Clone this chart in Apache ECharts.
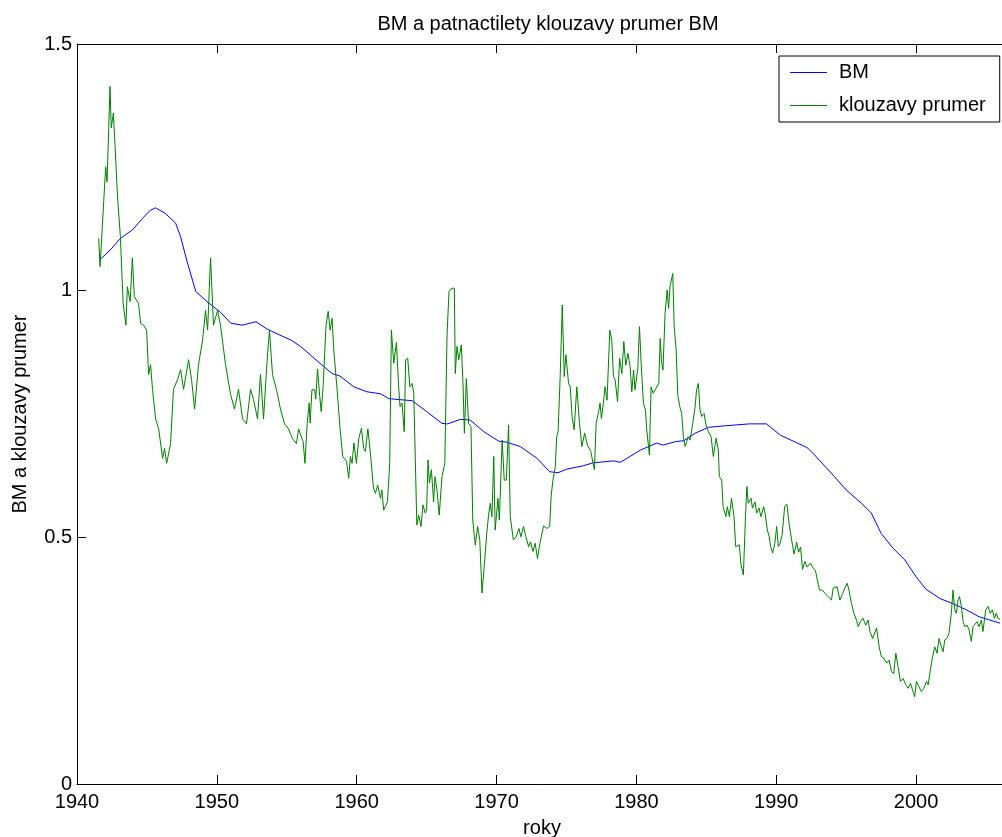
<!DOCTYPE html>
<html>
<head>
<meta charset="utf-8">
<script src="https://cdn.jsdelivr.net/npm/echarts@6/dist/echarts.min.js"></script>
<style>
  html, body { margin: 0; padding: 0; background: #fff; }
  #main { width: 1002px; height: 837px; }
</style>
</head>
<body>
<div id="main"></div>
<script>
// BM (blue)
var bmYears = [1941.6, 1942.4, 1943.1, 1943.96, 1944.7, 1945.2, 1945.6, 1946.3, 1947.05, 1947.4,
  1947.9, 1948.5, 1949.3, 1950.3, 1951.0, 1951.8, 1952.8, 1953.6, 1954.5, 1955.3,
  1955.98, 1957.65, 1958.24, 1958.8, 1959.8, 1960.74, 1961.7, 1962.3, 1963.96, 1965.0,
  1966.1, 1966.5, 1967.4, 1968.1, 1969.1, 1970.15, 1970.7, 1971.7, 1972.9, 1973.8,
  1974.4, 1975.0, 1976.2, 1976.9, 1978.4, 1978.84, 1979.2, 1980.3, 1981.45, 1981.9,
  1982.8, 1983.4, 1984.2, 1985.15, 1986.3, 1988.1, 1989.3, 1990.3, 1992.2, 1992.64,
  1994.07, 1995.0, 1996.1, 1996.8, 1997.5, 1998.35, 1999.2, 2000.0, 2000.7, 2001.7,
  2002.6, 2003.6, 2004.5, 2006.0];
var bmValues = [1.062, 1.083, 1.106, 1.123, 1.147, 1.162, 1.168, 1.157, 1.137, 1.11,
  1.056, 0.998, 0.978, 0.955, 0.934, 0.93, 0.937, 0.922, 0.91, 0.9,
  0.887, 0.846, 0.832, 0.827, 0.805, 0.795, 0.791, 0.781, 0.777, 0.755,
  0.731, 0.73, 0.739, 0.738, 0.714, 0.695, 0.693, 0.684, 0.66, 0.633,
  0.631, 0.638, 0.645, 0.651, 0.655, 0.652, 0.658, 0.677, 0.691, 0.687,
  0.694, 0.696, 0.711, 0.723, 0.726, 0.73, 0.73, 0.707, 0.682, 0.67,
  0.626, 0.596, 0.569, 0.549, 0.508, 0.478, 0.454, 0.42, 0.395, 0.376,
  0.366, 0.353, 0.339, 0.326];

// klouzavy prumer (green)
var kpYears = [1941.55, 1941.65, 1942.05, 1942.15, 1942.36, 1942.45, 1942.6, 1942.7, 1942.9, 1943.1,
  1943.3, 1943.5, 1943.6, 1943.8, 1943.96, 1944.1, 1944.4, 1944.55,
  1944.76, 1944.98, 1945.12, 1945.26, 1945.4, 1945.62, 1945.84, 1946.12, 1946.26, 1946.41,
  1946.69, 1946.9, 1947.19, 1947.41, 1947.62, 1947.98, 1948.19, 1948.41, 1948.69, 1948.98,
  1949.19, 1949.34, 1949.55, 1949.76, 1950.05, 1950.26, 1950.62, 1950.98, 1951.26, 1951.55,
  1951.84, 1952.12, 1952.41, 1952.62, 1952.91, 1953.12, 1953.34, 1953.55, 1953.76, 1953.98,
  1954.26, 1954.55, 1954.84, 1955.12, 1955.41, 1955.69, 1955.84,
  1955.98, 1956.17, 1956.3, 1956.46, 1956.6, 1956.67, 1956.8, 1957.0, 1957.07, 1957.2,
  1957.36, 1957.46, 1957.6, 1957.8, 1957.96, 1958.1, 1958.24, 1958.36, 1958.6, 1958.8,
  1959.0, 1959.27, 1959.43, 1959.55, 1959.67, 1959.8, 1959.98, 1960.15, 1960.34, 1960.5,
  1960.62, 1960.8, 1960.9, 1961.0, 1961.2, 1961.34, 1961.5, 1961.7, 1961.8, 1961.93,
  1962.05, 1962.2, 1962.36, 1962.48, 1962.65, 1962.84, 1963.0, 1963.1, 1963.24, 1963.4,
  1963.5, 1963.65, 1963.8, 1963.96, 1964.08, 1964.3, 1964.43, 1964.6, 1964.74, 1964.9,
  1965.0, 1965.1, 1965.2, 1965.34, 1965.5, 1965.6, 1965.74, 1965.9, 1966.1, 1966.3,
  1966.46, 1966.6, 1966.8, 1966.98, 1967.05, 1967.17, 1967.3, 1967.48, 1967.6, 1967.7,
  1967.84, 1968.0, 1968.17, 1968.3, 1968.48, 1968.65, 1968.8, 1968.96, 1969.1, 1969.3,
  1969.43, 1969.55, 1969.67, 1969.8, 1969.9, 1970.1, 1970.2, 1970.4, 1970.55, 1970.7,
  1970.86, 1970.98, 1971.2, 1971.4, 1971.6, 1971.74, 1971.93, 1972.1, 1972.3, 1972.43,
  1972.6, 1972.76, 1972.93, 1973.1, 1973.36, 1973.6, 1973.8, 1973.9, 1974.03, 1974.2,
  1974.3, 1974.4, 1974.55, 1974.7, 1974.84, 1974.96, 1975.15, 1975.27, 1975.4, 1975.55,
  1975.74, 1975.93, 1976.1, 1976.3, 1976.5, 1976.74, 1976.9, 1977.0, 1977.12, 1977.3,
  1977.4, 1977.5, 1977.64, 1977.76, 1977.9, 1978.0, 1978.1, 1978.24, 1978.36, 1978.48,
  1978.65, 1978.8, 1978.96, 1979.1, 1979.24, 1979.4, 1979.55, 1979.67, 1979.8, 1979.9,
  1980.1, 1980.22, 1980.34, 1980.5, 1980.65, 1980.74, 1980.93, 1981.05, 1981.2, 1981.4,
  1981.6, 1981.7, 1981.8, 1981.9, 1982.05, 1982.2, 1982.3, 1982.4, 1982.6, 1982.7,
  1982.84, 1982.96, 1983.1, 1983.24, 1983.36, 1983.48, 1983.6, 1983.7, 1983.84, 1984.03,
  1984.2, 1984.3, 1984.43, 1984.55, 1984.67, 1984.84, 1984.98, 1985.15, 1985.34, 1985.5,
  1985.7, 1985.86, 1985.93, 1986.1, 1986.2, 1986.4, 1986.5, 1986.65, 1986.8, 1986.98,
  1987.1, 1987.36, 1987.48, 1987.65, 1987.8, 1987.9, 1988.0, 1988.2, 1988.3, 1988.48,
  1988.6, 1988.77, 1988.9, 1989.1, 1989.2, 1989.36, 1989.5, 1989.6, 1989.74, 1989.9,
  1990.03, 1990.15, 1990.27, 1990.42, 1990.6, 1990.76, 1990.93, 1991.1, 1991.27, 1991.46,
  1991.6, 1991.74, 1991.88, 1992.05, 1992.2, 1992.45, 1992.64, 1992.8, 1993.0, 1993.1,
  1993.3, 1993.5, 1993.7, 1993.95, 1994.07, 1994.2, 1994.35, 1994.55, 1994.74, 1994.9,
  1995.07, 1995.2, 1995.38, 1995.55, 1995.74, 1995.86, 1996.02, 1996.2, 1996.4, 1996.57,
  1996.7, 1996.9, 1997.17, 1997.36, 1997.52, 1997.69, 1997.9, 1998.07, 1998.24, 1998.4,
  1998.55, 1998.71, 1998.88, 1999.07, 1999.26, 1999.43, 1999.6, 1999.74, 1999.9, 2000.02,
  2000.21, 2000.38, 2000.55, 2000.74, 2000.86, 2001.02, 2001.16, 2001.33, 2001.5, 2001.64,
  2001.81, 2001.93, 2002.05, 2002.2, 2002.35, 2002.52, 2002.64, 2002.76, 2002.88, 2003.0,
  2003.1, 2003.24, 2003.36, 2003.48, 2003.64, 2003.79, 2003.95, 2004.07, 2004.19, 2004.36,
  2004.5, 2004.67, 2004.78, 2004.98, 2005.14, 2005.3, 2005.45, 2005.6, 2005.74, 2005.86,
  2006.0];
var kpValues = [1.106, 1.049, 1.251, 1.221, 1.414, 1.33, 1.36, 1.305, 1.19, 1.11,
  0.974, 0.93, 1.008, 0.978, 1.066, 0.988, 0.974, 0.934,
  0.93, 0.92, 0.83, 0.85, 0.8, 0.74, 0.72, 0.66, 0.68, 0.65,
  0.69, 0.8, 0.82, 0.84, 0.8, 0.86, 0.82, 0.76, 0.85, 0.9,
  0.96, 0.92, 1.066, 0.93, 0.96, 0.93, 0.85, 0.79, 0.76, 0.8,
  0.74, 0.73, 0.8, 0.78, 0.74, 0.83, 0.74, 0.84, 0.92, 0.83,
  0.8, 0.76, 0.73, 0.72, 0.7, 0.69, 0.72,
  0.718, 0.694, 0.65, 0.731, 0.772, 0.732, 0.799, 0.799, 0.78, 0.841,
  0.785, 0.755, 0.806, 0.927, 0.958, 0.92, 0.944, 0.88, 0.799, 0.724,
  0.664, 0.654, 0.62, 0.664, 0.65, 0.691, 0.65, 0.701, 0.721, 0.68,
  0.674, 0.72, 0.718, 0.664, 0.6, 0.589, 0.606, 0.579, 0.596, 0.555,
  0.552, 0.572, 0.65, 0.92, 0.853, 0.895, 0.805, 0.765, 0.772, 0.714,
  0.86, 0.863, 0.805, 0.812, 0.792, 0.525, 0.545, 0.522, 0.566, 0.549,
  0.555, 0.657, 0.61, 0.637, 0.572, 0.623, 0.596, 0.545, 0.623, 0.65,
  0.91, 0.998, 1.005, 1.005, 0.832, 0.887, 0.86, 0.89, 0.812, 0.711,
  0.822, 0.731, 0.724, 0.535, 0.484, 0.522, 0.495, 0.387, 0.434, 0.508,
  0.545, 0.569, 0.542, 0.664, 0.515, 0.579, 0.535, 0.697, 0.616, 0.616,
  0.728, 0.542, 0.495, 0.501, 0.518, 0.501, 0.522, 0.501, 0.481, 0.491,
  0.471, 0.488, 0.457, 0.488, 0.523, 0.518, 0.522, 0.582, 0.616, 0.643,
  0.704, 0.714, 0.826, 0.971, 0.826, 0.87, 0.812, 0.805, 0.745, 0.718,
  0.805, 0.731, 0.684, 0.711, 0.687, 0.674, 0.65, 0.637, 0.731, 0.755,
  0.772, 0.741, 0.772, 0.805, 0.778, 0.782, 0.92, 0.9, 0.826, 0.819,
  0.775, 0.863, 0.832, 0.897, 0.849, 0.873, 0.846, 0.795, 0.839, 0.799,
  0.843, 0.927, 0.853, 0.772, 0.758, 0.718, 0.667, 0.805, 0.792, 0.802,
  0.812, 0.903, 0.856, 0.839, 0.954, 1.001, 0.964, 1.008, 1.035, 0.927,
  0.88, 0.788, 0.765, 0.751, 0.704, 0.684, 0.694, 0.704, 0.697, 0.731,
  0.765, 0.799, 0.812, 0.758, 0.745, 0.751, 0.728, 0.714, 0.704, 0.664,
  0.701, 0.677, 0.623, 0.616, 0.562, 0.542, 0.562, 0.542, 0.579, 0.542,
  0.481, 0.485, 0.444, 0.424, 0.542, 0.603, 0.569, 0.579, 0.559, 0.572,
  0.549, 0.559, 0.542, 0.562, 0.549, 0.515, 0.501, 0.481, 0.468, 0.488,
  0.522, 0.481, 0.488, 0.505, 0.562, 0.567, 0.525, 0.495, 0.466, 0.49,
  0.47, 0.48, 0.435, 0.451, 0.44, 0.448, 0.437, 0.433, 0.405, 0.393,
  0.393, 0.386, 0.38, 0.373, 0.397, 0.393, 0.4, 0.373, 0.386, 0.397,
  0.407, 0.393, 0.366, 0.346, 0.332, 0.319, 0.329, 0.336, 0.322, 0.332,
  0.309, 0.295, 0.316, 0.278, 0.258, 0.255, 0.245, 0.251, 0.228, 0.224,
  0.265, 0.238, 0.208, 0.214, 0.201, 0.194, 0.204, 0.191, 0.177, 0.208,
  0.197, 0.187, 0.194, 0.208, 0.201, 0.231, 0.255, 0.278, 0.265, 0.295,
  0.278, 0.268, 0.292, 0.295, 0.305, 0.346, 0.393, 0.353, 0.346, 0.373,
  0.38, 0.36, 0.329, 0.319, 0.322, 0.312, 0.289, 0.319, 0.322, 0.329,
  0.319, 0.332, 0.309, 0.353, 0.36, 0.346, 0.353, 0.336, 0.346, 0.336,
  0.334];

var yTicks = [0, 0.5, 1, 1.5];

function pairs(xs, ys) {
  var out = [];
  for (var i = 0; i < xs.length; i++) out.push([xs[i], ys[i]]);
  return out;
}

var font = '"Liberation Sans", Arial, Helvetica, sans-serif';
var chart = echarts.init(document.getElementById('main'), null, { renderer: 'canvas' });

var axisCommon = {
  type: 'value',
  min: 1940,
  max: 2006.5,
  interval: 10,
  splitLine: { show: false },
  axisLine: { show: true, onZero: false, lineStyle: { color: '#000', width: 1 } },
  axisTick: { show: true, inside: true, length: 9, lineStyle: { color: '#000' } }
};

var option = {
  animation: false,
  backgroundColor: '#fff',
  title: {
    text: 'BM a patnactilety klouzavy prumer BM',
    left: 543,
    top: 9,
    textAlign: 'center',
    textStyle: { fontFamily: font, fontSize: 20, fontWeight: 'normal', color: '#000' }
  },
  legend: {
    orient: 'vertical',
    left: 779,
    top: 56,
    padding: [0, 14, 0, 11],
    itemGap: 0,
    itemWidth: 37,
    itemHeight: 1,
    icon: 'rect',
    borderColor: '#000',
    borderWidth: 1,
    backgroundColor: '#fff',
    textStyle: { fontFamily: font, fontSize: 20, color: '#000', lineHeight: 33, padding: [0, 0, 0, 7] },
    data: ['BM', 'klouzavy prumer']
  },
  grid: {
    left: 77, top: 44, width: 930, height: 740,
    containLabel: false,
    outerBoundsMode: 'none'
  },
  xAxis: [
    Object.assign({}, axisCommon, {
      position: 'bottom',
      name: 'roky',
      nameLocation: 'middle',
      nameGap: 34,
      nameTextStyle: { fontFamily: font, fontSize: 20, color: '#000' },
      axisLabel: {
        margin: 8,
        fontFamily: font, fontSize: 20, color: '#000',
        formatter: function (v) { return v % 10 === 0 ? String(v) : ''; }
      }
    }),
    Object.assign({}, axisCommon, {
      position: 'top',
      axisLabel: { show: false }
    })
  ],
  yAxis: {
    type: 'value',
    min: yTicks[0],
    max: yTicks[yTicks.length - 1],
    interval: 0.5,
    name: 'BM a klouzavy prumer',
    nameLocation: 'middle',
    nameGap: 47,
    nameTextStyle: { fontFamily: font, fontSize: 20, color: '#000' },
    splitLine: { show: false },
    axisLine: { show: true, lineStyle: { color: '#000', width: 1 } },
    axisTick: { show: true, inside: true, length: 9, lineStyle: { color: '#000' } },
    axisLabel: { margin: 5, fontFamily: font, fontSize: 20, color: '#000' }
  },
  series: [
    {
      name: 'BM',
      type: 'line',
      data: pairs(bmYears, bmValues),
      showSymbol: false,
      symbol: 'none',
      color: '#0000ff',
      lineStyle: { color: '#0000ff', width: 1 }
    },
    {
      name: 'klouzavy prumer',
      type: 'line',
      data: pairs(kpYears, kpValues),
      showSymbol: false,
      symbol: 'none',
      color: '#008000',
      lineStyle: { color: '#008000', width: 1 }
    }
  ]
};

chart.setOption(option);
</script>
</body>
</html>
